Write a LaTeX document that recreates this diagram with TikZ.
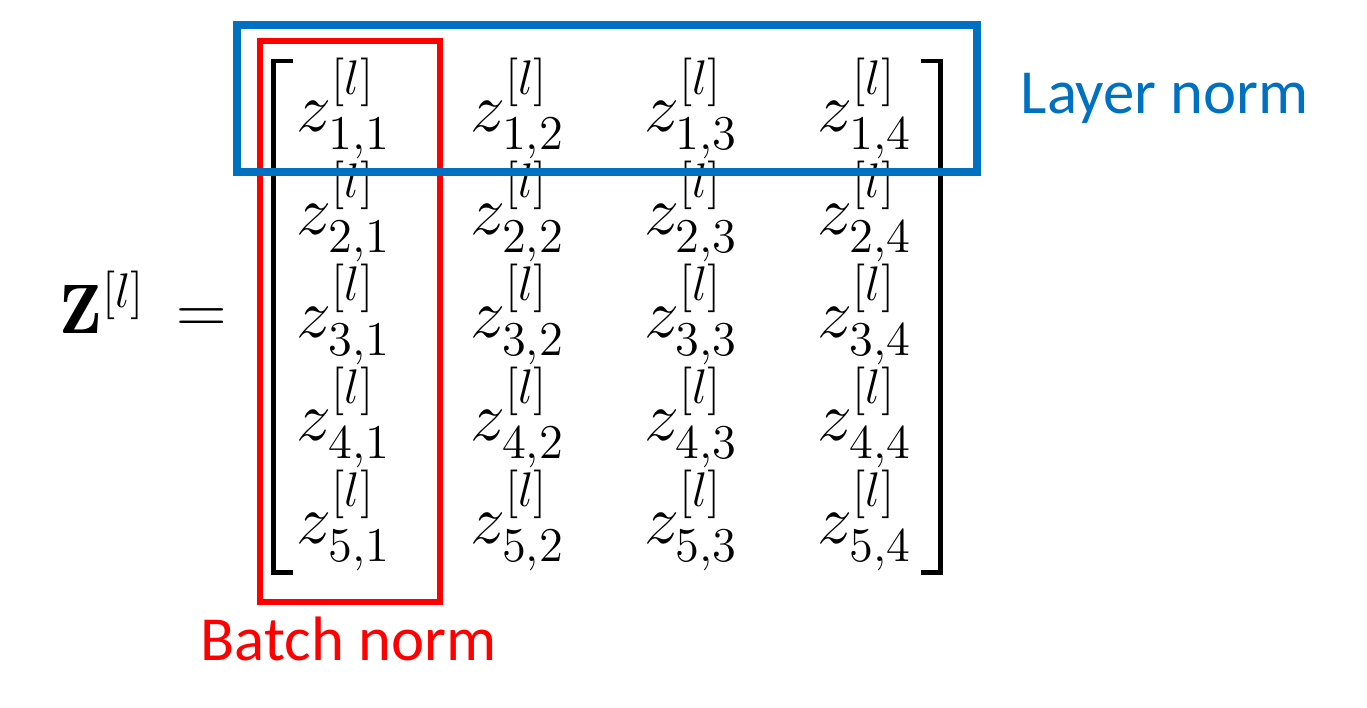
\documentclass[tikz,border=0pt]{standalone}
\usepackage{amsmath}
\usepackage{fontspec}
\newfontfamily\labelfont{Carlito}
\newcommand{\mathsize}{\fontsize{20.74}{25}\selectfont}
\tikzset{
  entry/.style={anchor=base west,inner sep=0pt,font=\mathsize},
  normlabel/.style={anchor=base west,inner sep=0pt,font=\labelfont\fontsize{18.6}{22}\selectfont},
}
\begin{document}
\begin{tikzpicture}[x=0.01042cm,y=-0.01042cm]
                        \useasboundingbox (0,0) rectangle (1367,707);

                        % Left hand side Z = 
                        \node[entry] (lhs) at (59,333) {$\mathbf{Z}^{[l]}\mkern8mu{=}$};

                        % Entries of the matrix, row r column c
                        \foreach \r in {1,...,5}{
                          \foreach \c in {1,...,4}{
                            \node[entry] (z\r\c) at ({296+173.7*(\c-1)},{131+103*(\r-1)}) {$z_{\r,\c}^{[l]}$};
                          }
                        }

                        % Drawing left bracket
                        \draw [line width=0.052cm] (293,61) -- (273.5,61) -- (273.5,572) -- (293,572);%

                        % Drawing right bracket
                        \draw [line width=0.052cm] (921,61) -- (940,61) -- (940,572) -- (921,572);%

                        % Changing color 255 0 0
                        \definecolor{r255g0b0}{rgb}{1.000000,0.000000,0.000000}%

                        % Drawing box around column 1
                        \draw [r255g0b0,line width=0.068cm] (260,41) rectangle (440,602);%
                        \node[normlabel,text=r255g0b0] (batch) at (200,660) {Batch norm};

                        % Changing color 0 112 192
                        \definecolor{r0g112b192}{rgb}{0.000000,0.439216,0.752941}%

                        % Drawing box around row 1
                        \draw [r0g112b192,line width=0.083cm] (237,25) rectangle (977,172);%
                        \node[normlabel,text=r0g112b192] (layer) at (1020,113) {Layer norm};
                    \end{tikzpicture}
\end{document}
